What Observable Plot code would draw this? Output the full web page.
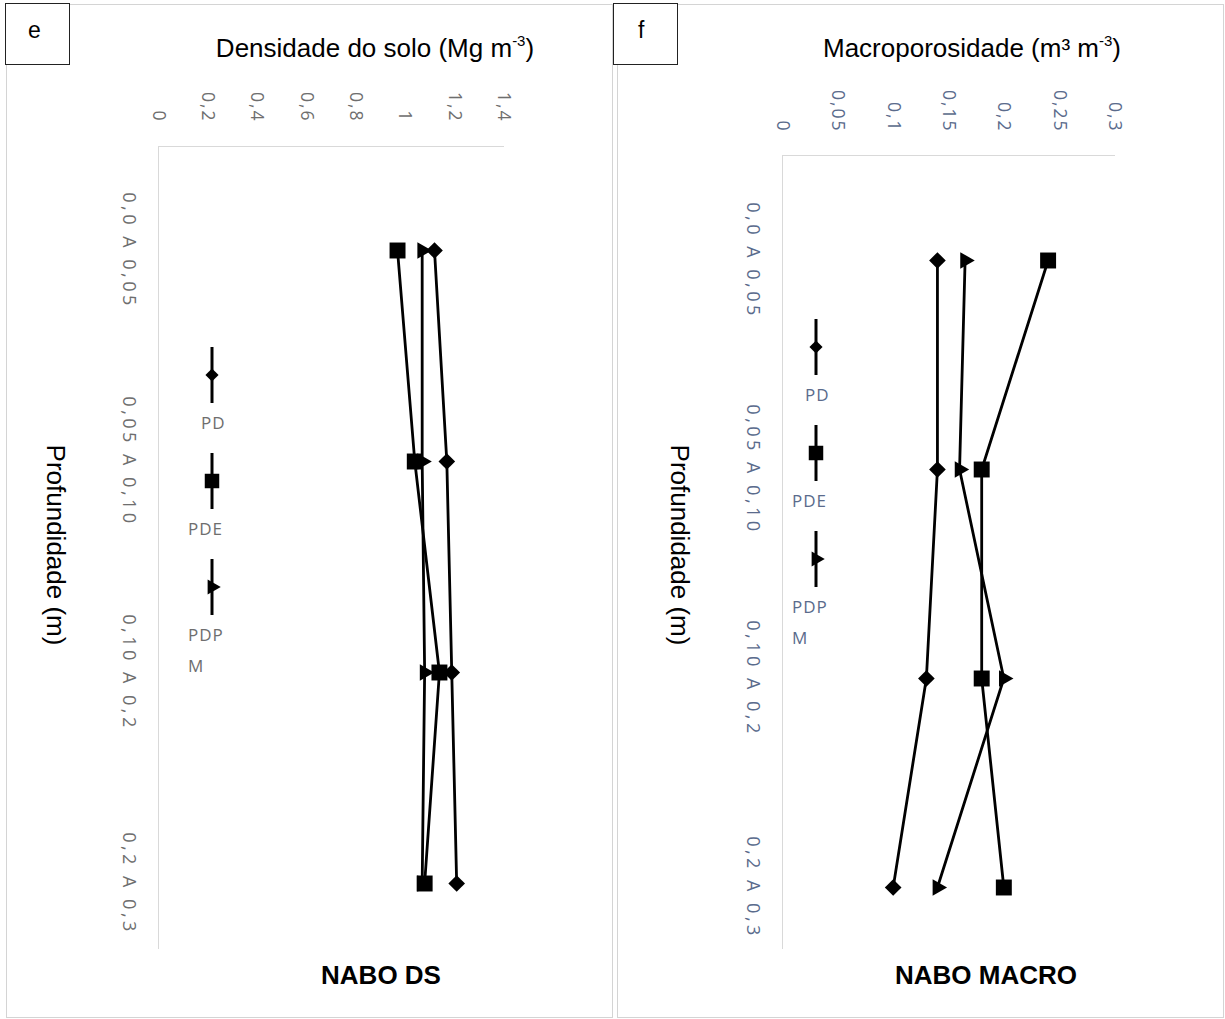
<!DOCTYPE html>
<html>
<head>
<meta charset="utf-8">
<script src="https://cdn.jsdelivr.net/npm/d3@7"></script>
<script src="https://cdn.jsdelivr.net/npm/@observablehq/plot@0.6"></script>
<style>
  html, body { margin: 0; padding: 0; background: #fff; }
  #page { position: relative; width: 1225px; height: 1019px; overflow: hidden; font-family: "Liberation Sans", Arial, sans-serif; }
  .panel { position: absolute; top: 0; }
  .frame { position: absolute; border: 1px solid #d4d4d4; box-sizing: border-box; }
  .tag { position: absolute; border: 1px solid #222; background: #fff; box-sizing: border-box; font-size: 23px; line-height: 1; }
  .title { position: absolute; font-size: 26px; white-space: nowrap; color: #000; transform: translateX(-50%); }
  .title sup { font-size: 15px; vertical-align: 0; position: relative; top: -11px; }
  .ytitle { position: absolute; font-size: 26px; white-space: nowrap; transform: translate(-50%, -50%) rotate(90deg); }
  .bottom { position: absolute; font-size: 26px; font-weight: bold; white-space: nowrap; transform: translateX(-50%); }
  svg g[aria-label="x-axis tick label"] text { letter-spacing: 2px; }
  svg g[aria-label="y-axis tick label"] text { letter-spacing: 3.5px; }
</style>
</head>
<body>
<div id="page"></div>
<script>
// ---------- data ----------
const depths = ["0,0 A 0,05", "0,05 A 0,10", "0,10 A 0,2", "0,2 A 0,3"];
const series = ["PD", "PDE", "PDPM"];

const dsPD   = [1.12, 1.17, 1.19, 1.21];
const dsPDE  = [0.97, 1.04, 1.14, 1.08];
const dsPDPM = [1.07, 1.07, 1.08, 1.07];
const dsTicks = [0, 0.2, 0.4, 0.6, 0.8, 1, 1.2, 1.4];

const macroPD   = [0.14, 0.14, 0.13, 0.10];
const macroPDE  = [0.24, 0.18, 0.18, 0.20];
const macroPDPM = [0.165, 0.16, 0.20, 0.14];
const macroTicks = [0, 0.05, 0.1, 0.15, 0.2, 0.25, 0.3];

// ---------- helpers ----------
function rows(valuesBySeries) {
  const out = [];
  series.forEach((s, i) => valuesBySeries[i].forEach((v, j) => out.push({series: s, depth: depths[j], value: v})));
  return out;
}
const comma = d => String(d).replace(".", ",");

const markerStyle = {
  PD:   {symbol: "diamond2", r: 7.5, rotate: 0},
  PDE:  {symbol: "square",   r: 9,   rotate: 0},
  PDPM: {symbol: "triangle", r: 6.2, rotate: 90}
};

function panel(opts) {
  const data = rows(opts.values);
  const marks = [
    Plot.frame({anchor: "top", stroke: "#d9d9d9"}),
    Plot.frame({anchor: "left", stroke: "#d9d9d9"}),
    Plot.axisX({anchor: "top", ticks: opts.ticks, tickFormat: comma, tickSize: 0, tickRotate: 90,
                tickPadding: opts.xPad, textAnchor: "end", lineAnchor: "middle", fontSize: 17.5, fill: opts.labelColor, label: null}),
    Plot.axisY({anchor: "left", tickSize: 0, tickRotate: 90, tickPadding: 30,
                textAnchor: "middle", lineAnchor: "middle", fontSize: 18, fill: opts.labelColor, label: null}),
    Plot.line(data, {x: "value", y: "depth", z: "series", stroke: "#000", strokeWidth: 2.8})
  ];
  for (const s of series) {
    const m = markerStyle[s];
    marks.push(Plot.dot(data.filter(d => d.series === s),
      {x: "value", y: "depth", symbol: () => m.symbol, r: m.r, rotate: m.rotate, fill: "#000", stroke: "none"}));
  }
  const svg = Plot.plot({
    width: opts.width, height: opts.height,
    marginLeft: opts.ml, marginRight: opts.mr, marginTop: opts.mt, marginBottom: opts.mb,
    style: {background: "transparent", overflow: "visible", fontFamily: "'Open Sans', sans-serif"},
    x: {domain: [opts.ticks[0], opts.ticks[opts.ticks.length - 1]]},
    y: {type: "point", domain: depths, range: opts.yRange, padding: 0},
    symbol: {type: "identity"},
    marks
  });
  // legend (vertical, as in the rotated original)
  const g = d3.select(svg).append("g").attr("class", "legend");
  series.forEach((s, i) => {
    const cy = opts.legend.y0 + i * opts.legend.step;
    const cx = opts.legend.x;
    g.append("line").attr("x1", cx).attr("x2", cx).attr("y1", cy - 28).attr("y2", cy + 28)
      .attr("stroke", "#000").attr("stroke-width", 3);
    const m = markerStyle[s];
    const symType = s === "PD" ? d3.symbolDiamond2 : s === "PDE" ? d3.symbolSquare : d3.symbolTriangle;
    const size = s === "PD" ? 110 : s === "PDE" ? 210 : 100;
    g.append("path").attr("d", d3.symbol(symType, size)())
      .attr("transform", `translate(${cx},${cy}) rotate(${m.rotate})`).attr("fill", "#000");
    const lines = s === "PDPM" ? ["PDP", "M"] : [s];
    lines.forEach((t, k) => {
      g.append("text").text(t)
        .attr("x", s === "PD" ? cx - 11 : cx - 24).attr("y", cy + 54 + k * 31)
        .attr("text-anchor", "start")
        .attr("font-size", 17).attr("fill", opts.labelColor).attr("font-family", "'Open Sans', sans-serif")
        .style("letter-spacing", "1px");
    });
  });
  return svg;
}

const page = document.getElementById("page");
function addDiv(cls, css, html) {
  const d = document.createElement("div");
  d.className = cls;
  Object.assign(d.style, css);
  if (html !== undefined) d.innerHTML = html;
  page.appendChild(d);
  return d;
}

// frames
addDiv("frame", {left: "6px", top: "4px", width: "607px", height: "1014px"});
addDiv("frame", {left: "617px", top: "4px", width: "607px", height: "1014px"});

// panel e
const pe = panel({
  values: [dsPD, dsPDE, dsPDPM], ticks: dsTicks,
  width: 612, height: 1019, ml: 158, mr: 109, mt: 146, mb: 71, yRange: [250, 883],
  xPad: 24, labelColor: "#6e6e6e",
  legend: {x: 212, y0: 375, step: 106}
});
const we = addDiv("panel", {left: "0px"}); we.appendChild(pe);

// panel f
const pf = panel({
  values: [macroPD, macroPDE, macroPDPM], ticks: macroTicks,
  width: 613, height: 1019, ml: 170, mr: 111, mt: 155, mb: 71, yRange: [259, 887],
  xPad: 23, labelColor: "#5a6b8c",
  legend: {x: 204, y0: 347, step: 106}
});
const wf = addDiv("panel", {left: "612px"}); wf.appendChild(pf);

// tags
addDiv("tag", {left: "5px", top: "3px", width: "65px", height: "62px", padding: "15px 0 0 22px"}, "e");
addDiv("tag", {left: "613px", top: "3px", width: "65px", height: "62px", padding: "15px 0 0 24px"}, "f");

// titles
addDiv("title", {left: "375px", top: "33px"}, "Densidade do solo (Mg m<sup>-3</sup>)");
addDiv("title", {left: "972px", top: "33px"}, "Macroporosidade (m³ m<sup>-3</sup>)");
addDiv("ytitle", {left: "55px", top: "545px"}, "Profundidade (m)");
addDiv("ytitle", {left: "679px", top: "545px"}, "Profundidade (m)");
addDiv("bottom", {left: "381px", top: "960px"}, "NABO DS");
addDiv("bottom", {left: "986px", top: "960px"}, "NABO MACRO");
</script>
</body>
</html>
